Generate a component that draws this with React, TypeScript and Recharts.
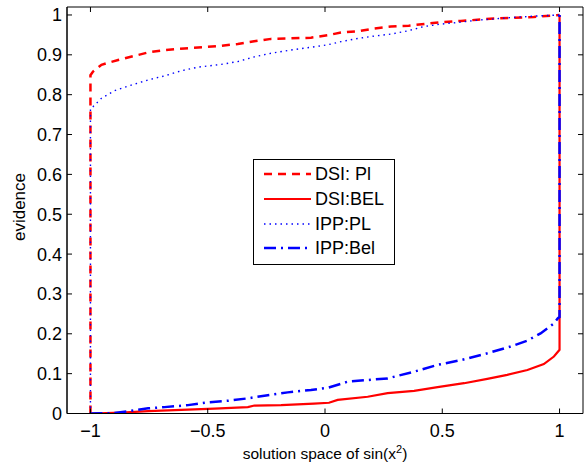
import React from 'react';
import { LineChart, Line, XAxis, YAxis, Legend, ReferenceArea, Label } from 'recharts';

// DSI plausibility (red dashed)
const dsiPlX = [-1, -1, -0.989, -0.953, -0.882, -0.754, -0.685, -0.6, -0.457, -0.372, -0.302, -0.23, -0.159, -0.06, 0.011, 0.068, 0.139, 0.209, 0.281, 0.357, 0.43, 0.5, 0.579, 0.65, 0.72, 0.804, 0.89, 0.96, 1];
const dsiPlY = [0, 0.849, 0.858, 0.875, 0.887, 0.906, 0.912, 0.916, 0.922, 0.927, 0.934, 0.94, 0.941, 0.943, 0.949, 0.956, 0.959, 0.966, 0.971, 0.973, 0.978, 0.982, 0.985, 0.988, 0.991, 0.993, 0.995, 0.998, 1];

// DSI belief (red solid)
const dsiBelX = [-1, -0.868, -0.754, -0.613, -0.471, -0.329, -0.301, -0.187, -0.047, 0.017, 0.054, 0.182, 0.267, 0.38, 0.48, 0.593, 0.692, 0.777, 0.863, 0.933, 0.976, 0.993, 1, 1];
const dsiBelY = [0, 0.002, 0.006, 0.009, 0.012, 0.016, 0.02, 0.021, 0.025, 0.027, 0.034, 0.042, 0.051, 0.057, 0.066, 0.076, 0.087, 0.097, 0.109, 0.124, 0.143, 0.155, 0.16, 1];

// IPP plausibility (blue dotted)
const ippPlX = [-1, -1, -0.989, -0.953, -0.898, -0.826, -0.754, -0.685, -0.613, -0.542, -0.443, -0.372, -0.301, -0.23, -0.145, -0.06, 0.01, 0.068, 0.139, 0.209, 0.281, 0.352, 0.422, 0.494, 0.579, 0.65, 0.72, 0.804, 0.89, 0.96, 1];
const ippPlY = [0, 0.766, 0.77, 0.791, 0.81, 0.824, 0.837, 0.847, 0.86, 0.869, 0.876, 0.883, 0.895, 0.904, 0.912, 0.919, 0.925, 0.933, 0.941, 0.947, 0.952, 0.96, 0.971, 0.977, 0.982, 0.987, 0.99, 0.994, 0.997, 0.999, 1];

// IPP belief (blue dash-dot)
const ippBelX = [-1, -0.898, -0.826, -0.754, -0.684, -0.584, -0.5, -0.414, -0.329, -0.244, -0.159, -0.06, 0.015, 0.097, 0.182, 0.267, 0.38, 0.48, 0.579, 0.692, 0.791, 0.863, 0.919, 0.976, 0.993, 1, 1];
const ippBelY = [0, 0.001, 0.007, 0.013, 0.016, 0.021, 0.028, 0.032, 0.038, 0.046, 0.053, 0.059, 0.065, 0.08, 0.084, 0.088, 0.105, 0.122, 0.134, 0.151, 0.168, 0.183, 0.201, 0.226, 0.239, 0.242, 1];

const xTicks = [-1, -0.5, 0, 0.5, 1];
const yTicks = [0, 0.1, 0.2, 0.3, 0.4, 0.5, 0.6, 0.7, 0.8, 0.9, 1];

const toPoints = (xs: number[], ys: number[]) => xs.map((x, i) => ({ x, y: ys[i] }));

const series = [
  { name: 'DSI: Pl', data: toPoints(dsiPlX, dsiPlY), color: '#ff0000', dash: '8 6', width: 2.5 },
  { name: 'DSI:BEL', data: toPoints(dsiBelX, dsiBelY), color: '#ff0000', dash: undefined, width: 2.2 },
  { name: 'IPP:PL', data: toPoints(ippPlX, ippPlY), color: '#0000ff', dash: '1.5 4', width: 1.4 },
  { name: 'IPP:Bel', data: toPoints(ippBelX, ippBelY), color: '#0000ff', dash: '12 5 2 5', width: 2.5 },
];

const W = 584;
const H = 466;
const LEFT = 67;
const RIGHT = 583;
const TOP = 7;
const BOTTOM = 413.5;
const FONT = '"Liberation Sans", Arial, Helvetica, sans-serif';

const YTick = (props: any) => {
  const { x, y, payload } = props;
  return (
    <g>
      <line x1={LEFT} x2={LEFT + 5} y1={y} y2={y} stroke="#000" />
      <line x1={RIGHT - 5} x2={RIGHT} y1={y} y2={y} stroke="#000" />
      <text x={x} y={y} dy="0.36em" textAnchor="end" fontSize={18} fill="#000" fontFamily={FONT}>
        {payload.value}
      </text>
    </g>
  );
};

const XTick = (props: any) => {
  const { x, payload } = props;
  const label = payload.value < 0 ? '\u2212' + Math.abs(payload.value) : String(payload.value);
  return (
    <g>
      <line x1={x} x2={x} y1={BOTTOM - 5} y2={BOTTOM} stroke="#000" />
      <line x1={x} x2={x} y1={TOP} y2={TOP + 5} stroke="#000" />
      <text x={x} y={BOTTOM + 23} textAnchor="middle" fontSize={18} fill="#000" fontFamily={FONT}>
        {label}
      </text>
    </g>
  );
};

const LegendBox = () => (
  <div
    style={{
      width: 140,
      height: 102,
      border: '1px solid #000',
      background: '#fff',
      fontFamily: FONT,
      fontSize: 18,
      boxSizing: 'content-box',
      paddingTop: 2,
    }}
  >
    {series.map((s) => (
      <div key={s.name} style={{ display: 'flex', alignItems: 'center', height: 24.7 }}>
        <svg width={60} height={10} style={{ display: 'block' }}>
          <line x1={10} x2={57} y1={5} y2={5} stroke={s.color} strokeWidth={s.width} strokeDasharray={s.dash} />
        </svg>
        <span style={{ marginLeft: 1, lineHeight: '18px' }}>{s.name}</span>
      </div>
    ))}
  </div>
);

export default function App() {
  return (
    <div style={{ position: 'absolute', left: 0, top: 0, background: '#fff' }}>
      <LineChart width={W} height={H} margin={{ top: TOP, right: W - RIGHT, bottom: 0, left: 0 }}>
        <XAxis
          dataKey="x"
          type="number"
          domain={[-1.1, 1.1]}
          ticks={xTicks}
          allowDataOverflow
          height={H - BOTTOM}
          tickSize={0}
          tickLine={false}
          tick={<XTick />}
          axisLine={{ stroke: '#000' }}
        >
          <Label
            content={() => (
              <text x={(LEFT + RIGHT) / 2} y={459} textAnchor="middle" fontSize={15.5} fontFamily={FONT} fill="#000">
                solution space of sin(x
                <tspan dy={-6} fontSize={11}>2</tspan>
                <tspan dy={6}>)</tspan>
              </text>
            )}
          />
        </XAxis>
        <YAxis
          type="number"
          domain={[0, 1.02]}
          ticks={yTicks}
          allowDataOverflow
          width={LEFT}
          tickSize={0}
          tickMargin={5}
          tickLine={false}
          tick={<YTick />}
          axisLine={{ stroke: '#000' }}
        >
          <Label
            content={() => (
              <text
                x={25}
                y={207}
                transform="rotate(-90, 25, 207)"
                textAnchor="middle"
                fontSize={17}
                fontFamily={FONT}
                fill="#000"
              >
                evidence
              </text>
            )}
          />
        </YAxis>
        <ReferenceArea x1={-1.1} x2={1.1} y1={0} y2={1.02} fill="none" stroke="#000" strokeWidth={1} />
        {series.map((s) => (
          <Line
            key={s.name}
            data={s.data}
            dataKey="y"
            name={s.name}
            type="linear"
            stroke={s.color}
            strokeWidth={s.width}
            strokeDasharray={s.dash}
            dot={false}
            activeDot={false}
            isAnimationActive={false}
          />
        ))}
        <Legend
          verticalAlign="middle"
          align="center"
          layout="horizontal"
          content={<LegendBox />}
          wrapperStyle={{ position: 'absolute', left: 253, top: 159, width: 142 }}
        />
      </LineChart>
    </div>
  );
}
